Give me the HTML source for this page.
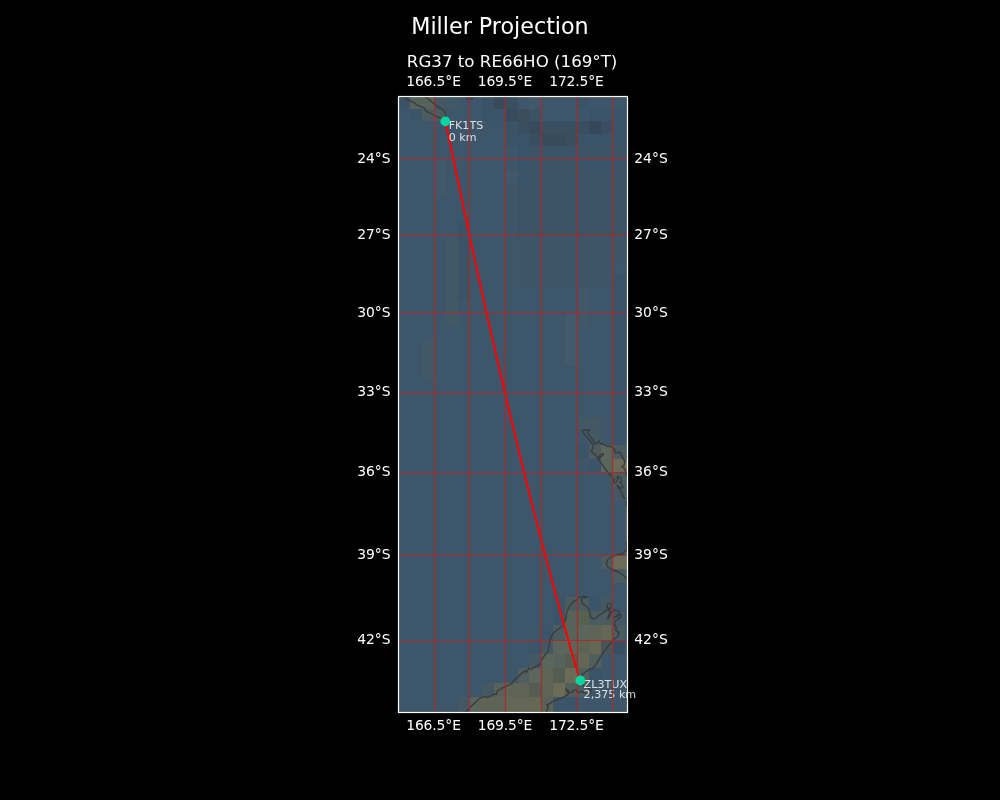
<!DOCTYPE html>
<html><head><meta charset="utf-8"><style>
html,body{margin:0;padding:0;background:#000;width:1000px;height:800px;overflow:hidden}
svg{display:block;will-change:transform}
text{font-family:"DejaVu Sans","Liberation Sans",sans-serif}
</style></head><body>
<svg width="1000" height="800" viewBox="0 0 1000 800">
<rect width="1000" height="800" fill="#000"/>
<defs><clipPath id="ax"><rect x="398.5" y="96.5" width="229.0" height="616.0"/></clipPath></defs>
<g clip-path="url(#ax)">
<g shape-rendering="crispEdges">
<rect x="398.5" y="96.5" width="229.0" height="616.0" fill="#3e5669"/>
<rect x="398" y="96" width="12" height="13" fill="#3b5367"/>
<rect x="410" y="96" width="12" height="13" fill="#57625a"/>
<rect x="422" y="96" width="12" height="13" fill="#57625a"/>
<rect x="434" y="96" width="12" height="13" fill="#445864"/>
<rect x="446" y="96" width="12" height="13" fill="#415869"/>
<rect x="482" y="96" width="12" height="13" fill="#3b5367"/>
<rect x="494" y="96" width="12" height="13" fill="#374b5c"/>
<rect x="506" y="96" width="12" height="13" fill="#394f60"/>
<rect x="529" y="96" width="12" height="13" fill="#415869"/>
<rect x="577" y="96" width="12" height="13" fill="#3b5367"/>
<rect x="410" y="109" width="12" height="12" fill="#3c5468"/>
<rect x="422" y="109" width="12" height="12" fill="#4b5c60"/>
<rect x="434" y="109" width="12" height="12" fill="#4b5c60"/>
<rect x="482" y="109" width="12" height="12" fill="#3b5367"/>
<rect x="494" y="109" width="12" height="12" fill="#3b5367"/>
<rect x="506" y="109" width="12" height="12" fill="#374b5c"/>
<rect x="518" y="109" width="11" height="12" fill="#394f60"/>
<rect x="529" y="109" width="12" height="12" fill="#3b5367"/>
<rect x="589" y="109" width="12" height="12" fill="#3b5367"/>
<rect x="601" y="109" width="12" height="12" fill="#3b5367"/>
<rect x="613" y="109" width="12" height="12" fill="#3b5367"/>
<rect x="625" y="109" width="3" height="12" fill="#3b5367"/>
<rect x="506" y="121" width="12" height="13" fill="#3b5367"/>
<rect x="518" y="121" width="11" height="13" fill="#394f60"/>
<rect x="529" y="121" width="12" height="13" fill="#374b5c"/>
<rect x="541" y="121" width="12" height="13" fill="#394f60"/>
<rect x="553" y="121" width="12" height="13" fill="#394f60"/>
<rect x="565" y="121" width="12" height="13" fill="#394f60"/>
<rect x="577" y="121" width="12" height="13" fill="#394f60"/>
<rect x="589" y="121" width="12" height="13" fill="#354859"/>
<rect x="601" y="121" width="12" height="13" fill="#394f60"/>
<rect x="613" y="121" width="12" height="13" fill="#3b5367"/>
<rect x="625" y="121" width="3" height="13" fill="#3b5367"/>
<rect x="506" y="134" width="12" height="12" fill="#3b5367"/>
<rect x="518" y="134" width="11" height="12" fill="#3b5367"/>
<rect x="529" y="134" width="12" height="12" fill="#394f60"/>
<rect x="541" y="134" width="12" height="12" fill="#374b5c"/>
<rect x="553" y="134" width="12" height="12" fill="#374b5c"/>
<rect x="565" y="134" width="12" height="12" fill="#394f60"/>
<rect x="577" y="134" width="12" height="12" fill="#3b5367"/>
<rect x="589" y="134" width="12" height="12" fill="#3b5367"/>
<rect x="601" y="134" width="12" height="12" fill="#3b5367"/>
<rect x="613" y="134" width="12" height="12" fill="#3b5367"/>
<rect x="625" y="134" width="3" height="12" fill="#3b5367"/>
<rect x="518" y="146" width="11" height="13" fill="#3b5367"/>
<rect x="529" y="146" width="12" height="13" fill="#3c5365"/>
<rect x="541" y="146" width="12" height="13" fill="#3b5367"/>
<rect x="553" y="146" width="12" height="13" fill="#3b5367"/>
<rect x="565" y="146" width="12" height="13" fill="#3c5365"/>
<rect x="577" y="146" width="12" height="13" fill="#3c5365"/>
<rect x="589" y="146" width="12" height="13" fill="#3c5365"/>
<rect x="601" y="146" width="12" height="13" fill="#3c5365"/>
<rect x="613" y="146" width="12" height="13" fill="#3c5365"/>
<rect x="434" y="159" width="12" height="12" fill="#415869"/>
<rect x="518" y="159" width="11" height="12" fill="#3b5367"/>
<rect x="529" y="159" width="12" height="12" fill="#3c5365"/>
<rect x="541" y="159" width="12" height="12" fill="#3c5365"/>
<rect x="553" y="159" width="12" height="12" fill="#3c5365"/>
<rect x="565" y="159" width="12" height="12" fill="#3c5365"/>
<rect x="577" y="159" width="12" height="12" fill="#3b5367"/>
<rect x="589" y="159" width="12" height="12" fill="#3b5367"/>
<rect x="601" y="159" width="12" height="12" fill="#3b5367"/>
<rect x="613" y="159" width="12" height="12" fill="#3b5367"/>
<rect x="625" y="159" width="3" height="12" fill="#3b5367"/>
<rect x="434" y="171" width="12" height="13" fill="#415869"/>
<rect x="506" y="171" width="12" height="13" fill="#415869"/>
<rect x="518" y="171" width="11" height="13" fill="#3b5367"/>
<rect x="529" y="171" width="12" height="13" fill="#3c5365"/>
<rect x="541" y="171" width="12" height="13" fill="#3c5365"/>
<rect x="553" y="171" width="12" height="13" fill="#3c5365"/>
<rect x="565" y="171" width="12" height="13" fill="#3c5365"/>
<rect x="577" y="171" width="12" height="13" fill="#3c5365"/>
<rect x="589" y="171" width="12" height="13" fill="#3c5365"/>
<rect x="601" y="171" width="12" height="13" fill="#3c5365"/>
<rect x="613" y="171" width="12" height="13" fill="#3c5365"/>
<rect x="434" y="184" width="12" height="13" fill="#415869"/>
<rect x="518" y="184" width="11" height="13" fill="#3c5365"/>
<rect x="529" y="184" width="12" height="13" fill="#3c5365"/>
<rect x="541" y="184" width="12" height="13" fill="#3c5365"/>
<rect x="553" y="184" width="12" height="13" fill="#3c5365"/>
<rect x="565" y="184" width="12" height="13" fill="#3c5365"/>
<rect x="577" y="184" width="12" height="13" fill="#3c5365"/>
<rect x="589" y="184" width="12" height="13" fill="#3c5365"/>
<rect x="601" y="184" width="12" height="13" fill="#3c5365"/>
<rect x="613" y="184" width="12" height="13" fill="#3c5365"/>
<rect x="518" y="197" width="11" height="13" fill="#3c5365"/>
<rect x="529" y="197" width="12" height="13" fill="#3c5365"/>
<rect x="541" y="197" width="12" height="13" fill="#3c5365"/>
<rect x="553" y="197" width="12" height="13" fill="#3c5365"/>
<rect x="565" y="197" width="12" height="13" fill="#3c5365"/>
<rect x="577" y="197" width="12" height="13" fill="#3c5365"/>
<rect x="589" y="197" width="12" height="13" fill="#3c5365"/>
<rect x="601" y="197" width="12" height="13" fill="#3c5365"/>
<rect x="613" y="197" width="12" height="13" fill="#3c5365"/>
<rect x="518" y="210" width="11" height="12" fill="#3c5365"/>
<rect x="529" y="210" width="12" height="12" fill="#3c5365"/>
<rect x="541" y="210" width="12" height="12" fill="#3c5365"/>
<rect x="553" y="210" width="12" height="12" fill="#3c5365"/>
<rect x="565" y="210" width="12" height="12" fill="#3c5365"/>
<rect x="577" y="210" width="12" height="12" fill="#3c5365"/>
<rect x="589" y="210" width="12" height="12" fill="#3c5365"/>
<rect x="601" y="210" width="12" height="12" fill="#3c5365"/>
<rect x="613" y="210" width="12" height="12" fill="#3c5365"/>
<rect x="458" y="222" width="12" height="13" fill="#3b5367"/>
<rect x="518" y="222" width="11" height="13" fill="#3c5365"/>
<rect x="529" y="222" width="12" height="13" fill="#3c5365"/>
<rect x="541" y="222" width="12" height="13" fill="#3c5365"/>
<rect x="553" y="222" width="12" height="13" fill="#3c5365"/>
<rect x="565" y="222" width="12" height="13" fill="#3c5365"/>
<rect x="577" y="222" width="12" height="13" fill="#3c5365"/>
<rect x="589" y="222" width="12" height="13" fill="#3c5365"/>
<rect x="601" y="222" width="12" height="13" fill="#3c5365"/>
<rect x="613" y="222" width="12" height="13" fill="#3c5365"/>
<rect x="446" y="235" width="12" height="13" fill="#415966"/>
<rect x="458" y="235" width="12" height="13" fill="#3b5367"/>
<rect x="518" y="235" width="11" height="13" fill="#3d5567"/>
<rect x="529" y="235" width="12" height="13" fill="#3d5567"/>
<rect x="541" y="235" width="12" height="13" fill="#3d5567"/>
<rect x="553" y="235" width="12" height="13" fill="#3d5567"/>
<rect x="565" y="235" width="12" height="13" fill="#3d5567"/>
<rect x="577" y="235" width="12" height="13" fill="#3d5567"/>
<rect x="589" y="235" width="12" height="13" fill="#3d5567"/>
<rect x="601" y="235" width="12" height="13" fill="#3d5567"/>
<rect x="613" y="235" width="12" height="13" fill="#3d5567"/>
<rect x="446" y="248" width="12" height="13" fill="#415966"/>
<rect x="458" y="248" width="12" height="13" fill="#3b5367"/>
<rect x="518" y="248" width="11" height="13" fill="#3d5567"/>
<rect x="529" y="248" width="12" height="13" fill="#3d5567"/>
<rect x="541" y="248" width="12" height="13" fill="#3d5567"/>
<rect x="553" y="248" width="12" height="13" fill="#3d5567"/>
<rect x="565" y="248" width="12" height="13" fill="#3d5567"/>
<rect x="577" y="248" width="12" height="13" fill="#3d5567"/>
<rect x="589" y="248" width="12" height="13" fill="#3d5567"/>
<rect x="601" y="248" width="12" height="13" fill="#3d5567"/>
<rect x="613" y="248" width="12" height="13" fill="#3d5567"/>
<rect x="446" y="261" width="12" height="13" fill="#415966"/>
<rect x="458" y="261" width="12" height="13" fill="#3b5367"/>
<rect x="518" y="261" width="11" height="13" fill="#3d5567"/>
<rect x="529" y="261" width="12" height="13" fill="#3d5567"/>
<rect x="541" y="261" width="12" height="13" fill="#3d5567"/>
<rect x="553" y="261" width="12" height="13" fill="#3d5567"/>
<rect x="565" y="261" width="12" height="13" fill="#3d5567"/>
<rect x="577" y="261" width="12" height="13" fill="#3d5567"/>
<rect x="589" y="261" width="12" height="13" fill="#3d5567"/>
<rect x="601" y="261" width="12" height="13" fill="#3d5567"/>
<rect x="446" y="274" width="12" height="13" fill="#415966"/>
<rect x="458" y="274" width="12" height="13" fill="#3b5367"/>
<rect x="518" y="274" width="11" height="13" fill="#3d5567"/>
<rect x="529" y="274" width="12" height="13" fill="#3d5567"/>
<rect x="541" y="274" width="12" height="13" fill="#3d5567"/>
<rect x="553" y="274" width="12" height="13" fill="#3d5567"/>
<rect x="565" y="274" width="12" height="13" fill="#3d5567"/>
<rect x="577" y="274" width="12" height="13" fill="#3d5567"/>
<rect x="589" y="274" width="12" height="13" fill="#3d5567"/>
<rect x="601" y="274" width="12" height="13" fill="#3d5567"/>
<rect x="613" y="274" width="12" height="13" fill="#3b5367"/>
<rect x="446" y="287" width="12" height="13" fill="#415966"/>
<rect x="458" y="287" width="12" height="13" fill="#3b5367"/>
<rect x="577" y="287" width="12" height="13" fill="#415869"/>
<rect x="613" y="287" width="12" height="13" fill="#3b5367"/>
<rect x="446" y="300" width="12" height="13" fill="#415966"/>
<rect x="577" y="300" width="12" height="13" fill="#415869"/>
<rect x="613" y="300" width="12" height="13" fill="#3b5367"/>
<rect x="446" y="313" width="12" height="13" fill="#415966"/>
<rect x="565" y="313" width="12" height="13" fill="#425a6b"/>
<rect x="577" y="313" width="12" height="13" fill="#415869"/>
<rect x="613" y="313" width="12" height="13" fill="#3b5367"/>
<rect x="565" y="326" width="12" height="13" fill="#425a6b"/>
<rect x="613" y="326" width="12" height="13" fill="#3b5367"/>
<rect x="422" y="339" width="12" height="13" fill="#415869"/>
<rect x="565" y="339" width="12" height="13" fill="#425a6b"/>
<rect x="613" y="339" width="12" height="13" fill="#3b5367"/>
<rect x="422" y="352" width="12" height="13" fill="#415869"/>
<rect x="565" y="352" width="12" height="13" fill="#425a6b"/>
<rect x="613" y="352" width="12" height="13" fill="#3b5367"/>
<rect x="422" y="365" width="12" height="13" fill="#415869"/>
<rect x="613" y="365" width="12" height="13" fill="#3b5367"/>
<rect x="613" y="378" width="12" height="14" fill="#3b5367"/>
<rect x="613" y="392" width="12" height="13" fill="#3b5367"/>
<rect x="613" y="405" width="12" height="13" fill="#3b5367"/>
<rect x="577" y="418" width="12" height="14" fill="#445864"/>
<rect x="589" y="418" width="12" height="14" fill="#445864"/>
<rect x="613" y="418" width="12" height="14" fill="#3b5367"/>
<rect x="589" y="432" width="12" height="13" fill="#445864"/>
<rect x="613" y="432" width="12" height="13" fill="#3b5367"/>
<rect x="577" y="445" width="12" height="14" fill="#3c5468"/>
<rect x="589" y="445" width="12" height="14" fill="#4b5c60"/>
<rect x="601" y="445" width="12" height="14" fill="#5c665a"/>
<rect x="613" y="445" width="12" height="14" fill="#4b5c60"/>
<rect x="625" y="445" width="3" height="14" fill="#4b5c60"/>
<rect x="589" y="459" width="12" height="13" fill="#3c5468"/>
<rect x="601" y="459" width="12" height="13" fill="#5a655c"/>
<rect x="613" y="459" width="12" height="13" fill="#6b6c58"/>
<rect x="625" y="459" width="3" height="13" fill="#6b6c58"/>
<rect x="613" y="472" width="12" height="14" fill="#4b5c60"/>
<rect x="625" y="472" width="3" height="14" fill="#4b5c60"/>
<rect x="613" y="486" width="12" height="14" fill="#445864"/>
<rect x="625" y="486" width="3" height="14" fill="#4b5c60"/>
<rect x="625" y="500" width="3" height="13" fill="#4b5c60"/>
<rect x="625" y="513" width="3" height="14" fill="#4b5c60"/>
<rect x="625" y="527" width="3" height="14" fill="#4b5c60"/>
<rect x="625" y="541" width="3" height="14" fill="#4b5c60"/>
<rect x="601" y="555" width="12" height="14" fill="#4b5c60"/>
<rect x="613" y="555" width="12" height="14" fill="#6b6c58"/>
<rect x="625" y="555" width="3" height="14" fill="#6b6c58"/>
<rect x="613" y="569" width="12" height="14" fill="#4b5c60"/>
<rect x="625" y="569" width="3" height="14" fill="#4b5c60"/>
<rect x="553" y="597" width="12" height="14" fill="#3c5468"/>
<rect x="565" y="597" width="12" height="14" fill="#4b5c60"/>
<rect x="577" y="597" width="12" height="14" fill="#4b5c60"/>
<rect x="589" y="597" width="12" height="14" fill="#3c5468"/>
<rect x="601" y="597" width="12" height="14" fill="#445864"/>
<rect x="553" y="611" width="12" height="14" fill="#3b5367"/>
<rect x="565" y="611" width="12" height="14" fill="#57625a"/>
<rect x="577" y="611" width="12" height="14" fill="#586150"/>
<rect x="589" y="611" width="12" height="14" fill="#4b5c60"/>
<rect x="601" y="611" width="12" height="14" fill="#4b5c60"/>
<rect x="613" y="611" width="12" height="14" fill="#445864"/>
<rect x="625" y="611" width="3" height="14" fill="#3b5367"/>
<rect x="541" y="625" width="12" height="15" fill="#3c5468"/>
<rect x="553" y="625" width="12" height="15" fill="#4b5c60"/>
<rect x="565" y="625" width="12" height="15" fill="#57625a"/>
<rect x="577" y="625" width="12" height="15" fill="#5a655c"/>
<rect x="589" y="625" width="12" height="15" fill="#5f6356"/>
<rect x="601" y="625" width="12" height="15" fill="#656755"/>
<rect x="613" y="625" width="12" height="15" fill="#4b5c60"/>
<rect x="529" y="640" width="12" height="14" fill="#3c5468"/>
<rect x="541" y="640" width="12" height="14" fill="#445864"/>
<rect x="553" y="640" width="12" height="14" fill="#5a655c"/>
<rect x="565" y="640" width="12" height="14" fill="#5a655c"/>
<rect x="577" y="640" width="12" height="14" fill="#5f6356"/>
<rect x="589" y="640" width="12" height="14" fill="#656755"/>
<rect x="601" y="640" width="12" height="14" fill="#465658"/>
<rect x="613" y="640" width="12" height="14" fill="#394f60"/>
<rect x="529" y="654" width="12" height="14" fill="#445864"/>
<rect x="541" y="654" width="12" height="14" fill="#5a655c"/>
<rect x="553" y="654" width="12" height="14" fill="#57625a"/>
<rect x="565" y="654" width="12" height="14" fill="#555c51"/>
<rect x="577" y="654" width="12" height="14" fill="#656755"/>
<rect x="589" y="654" width="12" height="14" fill="#505e5c"/>
<rect x="518" y="668" width="11" height="15" fill="#505e5c"/>
<rect x="529" y="668" width="12" height="15" fill="#5c665a"/>
<rect x="541" y="668" width="12" height="15" fill="#5f6356"/>
<rect x="553" y="668" width="12" height="15" fill="#555c51"/>
<rect x="565" y="668" width="12" height="15" fill="#6b6c58"/>
<rect x="577" y="668" width="12" height="15" fill="#505e5c"/>
<rect x="589" y="668" width="12" height="15" fill="#3b5367"/>
<rect x="482" y="683" width="12" height="14" fill="#445864"/>
<rect x="494" y="683" width="12" height="14" fill="#57625a"/>
<rect x="506" y="683" width="12" height="14" fill="#5f6356"/>
<rect x="518" y="683" width="11" height="14" fill="#5f6356"/>
<rect x="529" y="683" width="12" height="14" fill="#555c51"/>
<rect x="541" y="683" width="12" height="14" fill="#5f6356"/>
<rect x="553" y="683" width="12" height="14" fill="#6b6c58"/>
<rect x="565" y="683" width="12" height="14" fill="#505e5c"/>
<rect x="577" y="683" width="12" height="14" fill="#4b5c60"/>
<rect x="458" y="697" width="12" height="15" fill="#445864"/>
<rect x="470" y="697" width="12" height="15" fill="#5a655c"/>
<rect x="482" y="697" width="12" height="15" fill="#5f6356"/>
<rect x="494" y="697" width="12" height="15" fill="#5f6356"/>
<rect x="506" y="697" width="12" height="15" fill="#656755"/>
<rect x="518" y="697" width="11" height="15" fill="#656755"/>
<rect x="529" y="697" width="12" height="15" fill="#656755"/>
<rect x="541" y="697" width="12" height="15" fill="#57625a"/>
<rect x="553" y="697" width="12" height="15" fill="#3c5468"/>
<rect x="565" y="697" width="12" height="15" fill="#3c5468"/>
</g>
<g fill="none" stroke="#3b3b3b" stroke-width="1.35" stroke-linejoin="round" stroke-linecap="round">
<path d="M401,95 L403.6,97.2 L410,100.8 L414.8,103.2 L417.2,105.2 L421.2,106.8 L423.6,107.6 L424.8,109.2 L426,111.2 L430,113.2 L433.2,114.8 L437.2,116.8 L440.4,118 L443,119.5 L445,118 L445.6,115.6 L445.2,113.2 L444,110.8 L441.2,108.8 L437.2,106.4 L434,103.6 L430,100.4 L425.2,97.2 L424,95"/>
<path d="M465.5,95 L466,97.2 L468.4,99.2 L470,99.6 L472.4,98.4 L473,95"/>
<path d="M629,478 L626.5,475 L626,473 L625,470 L624,468 L621.5,466.5 L624.25,465 L625,460 L624.25,461 L621.75,455.4 L619.25,451.6 L617,453.2 L615.5,452.6 L614.9,449.75 L612.4,447.6 L609.3,446 L607.4,446.6 L606.1,445.7 L603,444.1 L599.9,443.2 L598.9,441.3 L595.2,444.1 L593.3,441 L590.5,436.6 L587.7,432.6 L589.6,429.6 L581.4,430.4 L585.5,435.4 L589.25,439.75 L592.4,444.1 L593,446.6 L592.7,449.1 L591.1,450.7 L593,452.9 L595.5,454.75 L596.75,457.25 L598.6,459.1 L600.5,462.25 L603.6,466.6 L606.75,471 L610.5,475 L613,478 L614.5,479 L613.5,481 L614.5,483 L616.5,482 L618,479 L617,477 L619,476.5 L621,478.5 L621.5,481 L620,482 L622,484 L623,487 L621.5,488.5 L619.5,487 L617.5,485.5 L617,486 L619,488 L620.5,491 L621.6,492.5 L622.5,494 L623.1,496.7 L624.6,498.5 L626.7,499.4 L629,500"/>
<path d="M597.9,458.6 C598.5,456 601.5,453.3 603.3,453.6 C604,454.4 601.6,456.4 599.8,457.6 C599,458.2 598.2,459 597.9,458.6 Z"/>
<path d="M629,501 L626.3,502 L626.5,505.5 L629,507"/>
<path d="M629,540 L626.5,543 L626.5,549.75 L622.75,553.5 L616.75,555 L612.25,556.5 L607.75,559.5 L606.25,563.25 L607.75,567 L613,570 L619,572.25 L623.5,575.25 L626.5,578.25 L629,581"/>
<path d="M463.5,714 L465.6,711.9 L471,706.4 L479.7,698.3 L484,696.7 L487.8,697.5 L493.8,694 L496.5,694.5 L497,691.2 L502.5,688 L506.9,685.8 L511.8,683.6 L513.4,680.9 L519.9,674.9 L525.3,670.6 L526.4,672.7 L528.6,668.4 L531.2,669.5 L534.4,667.3 L540.4,664 L541,660.8 L545.3,654.3 L546.9,652.6 L548.1,651.5 L549.2,644.5 L550.3,639 L553,633.6 L554.6,632 L559.5,628.2 L563.3,626 L565.7,619.1 L567,611.25 L569.6,606 L574,601.6 L578.4,598.1 L581,596.8 L584.5,596.5 L587.6,597.25 L582.7,597.7 L581.4,599.9 L581.9,603.4 L586.25,606 L588.9,608.6 L589.75,613 L590.6,617.4 L593.25,619.1 L596.75,617.4 L600,614.6 L603.25,612.6 L606.5,610.35 L608.5,609.7 L609.7,611 L609.6,613.5 L608.6,616 L607.5,618.8 L608.6,618.5 L610,615.5 L610.8,612.5 L611.5,611.5 L613,611 L615.3,610.35 L617.55,610.7 L619.2,611.65 L619.5,612.6 L618.2,614.25 L616.9,615.55 L615.3,616.85 L613.3,617.5 L614.3,617 L617.1,616.3 L619.6,614.8 L621,614.3 L621.5,615 L620.8,616.9 L619.5,618.2 L617.2,619.5 L615.3,620.7 L614.5,622.5 L614.5,625.25 L616.75,627.5 L615.25,629.75 L619,632.75 L617.5,636.5 L613,639.5 L611.6,642.3 L605.1,649.9 L600.7,656.4 L595.8,665 L592.8,668 L588,670.4 L584.4,672.8 L582,675.2 L580.5,680 L583.2,685.4 L588,687.8 L591,689.6 L591.3,691.4 L589.8,693.2 L586.8,693.8 L584.4,692.6 L582,692 L578.4,692 L576.6,691.4 L576,689.6 L574.2,689.6 L572.4,692 L570.6,692.9 L568.8,691.4 L565.8,688.4 L566.4,690.2 L568.2,692.6 L568.2,694.4 L564,696.8 L559.8,698.6 L555.6,700.4 L552,701.6 L550.2,703.4 L546.6,705.2 L548.4,705.8 L547.8,708.2 L546.6,711.8 L546,714"/>
<path d="M455.4,123.2 C455.4,122.3 456,121.9 456.8,121.9 C457.6,121.9 458.1,122.5 458.1,123.2 C458.1,124 457.5,124.5 456.7,124.5 C455.9,124.5 455.4,124 455.4,123.2 Z"/>
<path d="M609.3,603.3 C610.8,603.3 611.7,604.6 611.7,606 C611.7,607.5 610.6,608.7 609.3,608.7 C607.9,608.7 606.9,607.5 606.9,606 C606.9,604.6 607.9,603.3 609.3,603.3 Z"/>

</g>
<path d="M445.56,121.12 L448.26,134.29 L450.98,147.48 L453.73,160.71 L456.50,173.97 L459.29,187.27 L462.11,200.59 L464.95,213.96 L467.82,227.35 L470.71,240.78 L473.63,254.25 L476.58,267.76 L479.56,281.30 L482.57,294.88 L485.61,308.51 L488.68,322.17 L491.79,335.88 L494.93,349.62 L498.10,363.42 L501.31,377.25 L504.56,391.13 L507.85,405.06 L511.17,419.04 L514.54,433.06 L517.95,447.13 L521.41,461.26 L524.91,475.43 L528.45,489.66 L532.05,503.94 L535.69,518.27 L539.39,532.66 L543.14,547.11 L546.94,561.61 L550.80,576.17 L554.72,590.79 L558.71,605.47 L562.75,620.21 L566.86,635.02 L571.04,649.88 L575.28,664.82 L579.60,679.81" fill="none" stroke="#ff0000" stroke-width="2.1" stroke-linecap="round" stroke-linejoin="round"/>
</g>
<g fill="#ffffff" fill-opacity="0.82" font-size="11.11px">
<text x="448.7" y="128.8">FK1TS</text>
<text x="448.7" y="140.7">0 km</text>
<text x="583.6" y="687.5">ZL3TUX</text>
<text x="583.6" y="698.4">2,375 km</text>
</g>
<g clip-path="url(#ax)"><g stroke="#ae2928" stroke-width="1.2" opacity="0.92">
<line x1="434.5" y1="96.5" x2="434.5" y2="712.5"/>
<line x1="469.5" y1="96.5" x2="469.5" y2="712.5"/>
<line x1="505.5" y1="96.5" x2="505.5" y2="712.5"/>
<line x1="541.5" y1="96.5" x2="541.5" y2="712.5"/>
<line x1="577.5" y1="96.5" x2="577.5" y2="712.5"/>
<line x1="612.5" y1="96.5" x2="612.5" y2="712.5"/>
<line x1="398.5" y1="159.5" x2="627.5" y2="159.5"/>
<line x1="398.5" y1="235.5" x2="627.5" y2="235.5"/>
<line x1="398.5" y1="313.5" x2="627.5" y2="313.5"/>
<line x1="398.5" y1="392.5" x2="627.5" y2="392.5"/>
<line x1="398.5" y1="472.5" x2="627.5" y2="472.5"/>
<line x1="398.5" y1="555.5" x2="627.5" y2="555.5"/>
<line x1="398.5" y1="640.5" x2="627.5" y2="640.5"/>
</g></g>
<circle cx="445.3" cy="121.4" r="4.9" fill="#06d6a0"/>
<circle cx="580.3" cy="680.5" r="4.9" fill="#06d6a0"/>
<rect x="398.5" y="96.5" width="229.0" height="616.0" fill="none" stroke="#ffffff" stroke-width="1.2"/>
<g fill="#ffffff" font-size="13.89px">
<text x="433.49" y="86" text-anchor="middle" letter-spacing="-0.12">166.5°E</text>
<text x="433.49" y="729.8" text-anchor="middle" letter-spacing="-0.12">166.5°E</text>
<text x="504.98" y="86" text-anchor="middle" letter-spacing="-0.12">169.5°E</text>
<text x="504.98" y="729.8" text-anchor="middle" letter-spacing="-0.12">169.5°E</text>
<text x="576.47" y="86" text-anchor="middle" letter-spacing="-0.12">172.5°E</text>
<text x="576.47" y="729.8" text-anchor="middle" letter-spacing="-0.12">172.5°E</text>
<text x="390.6" y="162.90" text-anchor="end">24°S</text>
<text x="634.3" y="162.90">24°S</text>
<text x="390.6" y="239.19" text-anchor="end">27°S</text>
<text x="634.3" y="239.19">27°S</text>
<text x="390.6" y="316.74" text-anchor="end">30°S</text>
<text x="634.3" y="316.74">30°S</text>
<text x="390.6" y="395.76" text-anchor="end">33°S</text>
<text x="634.3" y="395.76">33°S</text>
<text x="390.6" y="476.44" text-anchor="end">36°S</text>
<text x="634.3" y="476.44">36°S</text>
<text x="390.6" y="559.00" text-anchor="end">39°S</text>
<text x="634.3" y="559.00">39°S</text>
<text x="390.6" y="643.68" text-anchor="end">42°S</text>
<text x="634.3" y="643.68">42°S</text>
</g>
<text x="500" y="34" text-anchor="middle" fill="#fff" font-size="22.22px">Miller Projection</text>
<text x="512.1" y="66.8" text-anchor="middle" fill="#fff" font-size="16.67px">RG37 to RE66HO (169°T)</text>
</svg>
</body></html>
